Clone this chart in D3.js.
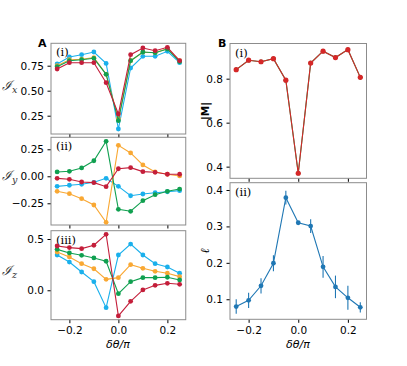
<!DOCTYPE html>
<html>
<head>
<meta charset="utf-8">
<script src="https://cdn.jsdelivr.net/npm/d3@7"></script>
<style>
  body { margin: 0; background: #fff; }
  svg { font-family: 'DejaVu Sans', sans-serif; }
  .domain { display: none; }
</style>
</head>
<body>
<div class="graphic_container"></div>
<script>
// delta theta / pi
const dtheta = [-0.25, -0.2, -0.15, -0.1, -0.05, 0, 0.05, 0.1, 0.15, 0.2, 0.25];

// panel A (i) I_x
const ixCyan   = [0.767, 0.837, 0.86, 0.887, 0.773, 0.117, 0.727, 0.844, 0.844, 0.894, 0.78];
const ixOrange = [0.75, 0.81, 0.815, 0.83, 0.665, 0.22, 0.80, 0.885, 0.88, 0.92, 0.80];
const ixGreen  = [0.74, 0.80, 0.81, 0.824, 0.664, 0.20, 0.80, 0.887, 0.88, 0.917, 0.79];
const ixRed    = [0.717, 0.78, 0.78, 0.78, 0.58, 0.267, 0.86, 0.927, 0.90, 0.934, 0.80];

// panel A (ii) I_y
const iyCyan   = [-0.093, -0.083, -0.074, -0.056, -0.019, -0.093, -0.180, -0.164, -0.152, -0.143, -0.133];
const iyOrange = [-0.139, -0.161, -0.207, -0.266, -0.426, 0.287, 0.216, 0.105, 0.040, 0.019, 0.003];
const iyGreen  = [0.040, 0.046, 0.077, 0.144, 0.324, -0.306, -0.324, -0.226, -0.170, -0.139, -0.118];
const iyRed    = [-0.019, -0.028, -0.053, -0.059, -0.096, 0.070, 0.080, 0.043, 0.037, 0.019, 0.019];

// panel A (iii) I_z
const izCyan   = [0.344, 0.275, 0.178, 0.084, -0.170, 0.344, 0.451, 0.344, 0.259, 0.227, 0.166];
const izOrange = [0.373, 0.325, 0.259, 0.210, 0.107, 0.123, 0.250, 0.214, 0.185, 0.166, 0.133];
const izGreen  = [0.399, 0.364, 0.341, 0.315, 0.283, -0.033, 0.084, 0.123, 0.123, 0.127, 0.100];
const izRed    = [0.432, 0.416, 0.406, 0.439, 0.546, -0.250, -0.108, 0.003, 0.048, 0.068, 0.058];

// panel B (i) |M|
const magM = [0.841, 0.884, 0.877, 0.891, 0.793, 0.370, 0.871, 0.925, 0.896, 0.932, 0.806];

// panel B (ii) l with error
const ell    = [0.080, 0.097, 0.137, 0.199, 0.379, 0.310, 0.301, 0.189, 0.134, 0.104, 0.078];
const ellErr = [0.020, 0.021, 0.021, 0.022, 0.019, 0.005, 0.019, 0.030, 0.031, 0.033, 0.014];

const xTicks = [-0.2, 0, 0.2];
const ticksAi = [0.25, 0.5, 0.75];
const ticksAii = [-0.25, 0, 0.25];
const ticksAiii = [0, 0.5];
const ticksBi = [0.4, 0.6, 0.8];
const ticksBii = [0.1, 0.2, 0.3, 0.4];

const colors = {cyan: '#1ab0ec', orange: '#f9a833', green: '#10a050', red: '#c41e3a', blue: '#1f77b4'};

const svg = d3.select('.graphic_container')
  .append('svg')
  .attr('width', 407)
  .attr('height', 366);

const xA = d3.scaleLinear().domain([-0.275, 0.275]).range([51, 185.75]);
const xB = d3.scaleLinear().domain([-0.275, 0.275]).range([230, 366.5]);

function drawPanel(x, top, bottom, yDomain, yTicks, yFmt, showX, tag) {
  const y = d3.scaleLinear().domain(yDomain).range([bottom, top]);
  const g = svg.append('g');
  const [x0, x1] = x.range();

  // x axis
  const xa = g.append('g')
    .attr('transform', `translate(0,${bottom})`)
    .call(d3.axisBottom(x).tickValues(xTicks).tickSize(3.5).tickPadding(3.5)
      .tickFormat(showX ? (d => d === 0 ? '0.0' : d3.format('.1f')(d).replace('-', '\u2212')) : ''));
  xa.selectAll('text').style('font-size', '10.5px').style('font-family', 'DejaVu Sans');

  // y axis
  const ya = g.append('g')
    .attr('transform', `translate(${x0},0)`)
    .call(d3.axisLeft(y).tickValues(yTicks).tickSize(3.5).tickPadding(3.5)
      .tickFormat(d => yFmt(d).replace('-', '\u2212')));
  ya.selectAll('text').style('font-size', '10.5px').style('font-family', 'DejaVu Sans');

  // frame
  g.append('rect')
    .attr('x', x0).attr('y', top)
    .attr('width', x1 - x0).attr('height', bottom - top)
    .attr('fill', 'none')
    .attr('stroke', '#8c8c8c')
    .attr('stroke-width', 1);

  g.append('text')
    .attr('x', x0 + 5).attr('y', top + 13)
    .style('font-family', 'DejaVu Serif')
    .style('font-size', '11.5px')
    .text(tag);

  const plot = svg.append('g');
  return {y, plot};
}

function drawSeries(p, x, values, color, r) {
  const line = d3.line().x((d, i) => x(dtheta[i])).y(d => p.y(d));
  p.plot.append('path')
    .datum(values)
    .attr('d', line)
    .attr('fill', 'none')
    .attr('stroke', color)
    .attr('stroke-width', 1.1);
  p.plot.selectAll(null)
    .data(values)
    .enter()
    .append('circle')
    .attr('cx', (d, i) => x(dtheta[i]))
    .attr('cy', d => p.y(d))
    .attr('r', r || 2.4)
    .attr('fill', color);
}

const f2 = d3.format('.2f');
const f1 = d3.format('.1f');

// panel A
const pAi = drawPanel(xA, 43.3, 134, [0.067, 0.974], ticksAi, f2, false, '(i)');
drawSeries(pAi, xA, ixCyan, colors.cyan);
drawSeries(pAi, xA, ixOrange, colors.orange);
drawSeries(pAi, xA, ixGreen, colors.green);
drawSeries(pAi, xA, ixRed, colors.red);

const pAii = drawPanel(xA, 137.3, 225, [-0.451, 0.361], ticksAii, f2, false, '(ii)');
drawSeries(pAii, xA, iyCyan, colors.cyan);
drawSeries(pAii, xA, iyOrange, colors.orange);
drawSeries(pAii, xA, iyGreen, colors.green);
drawSeries(pAii, xA, iyRed, colors.red);

const pAiii = drawPanel(xA, 230.7, 319.7, [-0.287, 0.581], ticksAiii, f1, true, '(iii)');
drawSeries(pAiii, xA, izCyan, colors.cyan);
drawSeries(pAiii, xA, izOrange, colors.orange);
drawSeries(pAiii, xA, izGreen, colors.green);
drawSeries(pAiii, xA, izRed, colors.red);

// panel B
const pBi = drawPanel(xB, 43.5, 178.3, [0.347, 0.96], ticksBi, f1, false, '(i)');
drawSeries(pBi, xB, magM, colors.green, 2.2);
drawSeries(pBi, xB, magM, '#d62728', 2.6);

const pBii = drawPanel(xB, 182.7, 319.3, [0.045, 0.42], ticksBii, f1, true, '(ii)');
pBii.plot.selectAll(null)
  .data(ell)
  .enter()
  .append('line')
  .attr('x1', (d, i) => xB(dtheta[i]))
  .attr('x2', (d, i) => xB(dtheta[i]))
  .attr('y1', (d, i) => pBii.y(d - ellErr[i]))
  .attr('y2', (d, i) => pBii.y(d + ellErr[i]))
  .attr('stroke', colors.blue)
  .attr('stroke-width', 1.1);
drawSeries(pBii, xB, ell, colors.blue, 2.4);

// panel letters
svg.append('text').attr('x', 38).attr('y', 47)
  .style('font-weight', 'bold').style('font-size', '11px').text('A');
svg.append('text').attr('x', 218).attr('y', 47)
  .style('font-weight', 'bold').style('font-size', '11px').text('B');

// y labels for A
const yLabA = [['x', 90], ['y', 180], ['z', 275]];
yLabA.forEach(([s, yy]) => {
  const t = svg.append('text')
    .attr('x', 2).attr('y', yy)
    .style('font-family', 'DejaVu Serif')
    .style('font-style', 'italic')
    .style('font-size', '13px')
    .style('fill', '#333');
  t.append('tspan').text('\u2110');
  t.append('tspan').attr('dy', 3).style('font-size', '9.5px').text(s);
});

// y labels for B
svg.append('text')
  .attr('transform', 'translate(209,111) rotate(-90)')
  .attr('text-anchor', 'middle')
  .style('font-size', '10.5px')
  .style('font-weight', 'bold')
  .text('|M|');
svg.append('text')
  .attr('transform', 'translate(209,251) rotate(-90)')
  .attr('text-anchor', 'middle')
  .style('font-size', '12px')
  .style('font-style', 'italic')
  .style('font-family', 'DejaVu Serif')
  .text('\u2113');

// x labels
[118, 298].forEach(cx => {
  svg.append('text')
    .attr('x', cx).attr('y', 348)
    .attr('text-anchor', 'middle')
    .style('font-size', '11px')
    .style('font-style', 'italic')
    .text('\u03b4\u03b8/\u03c0');
});
</script>
</body>
</html>
